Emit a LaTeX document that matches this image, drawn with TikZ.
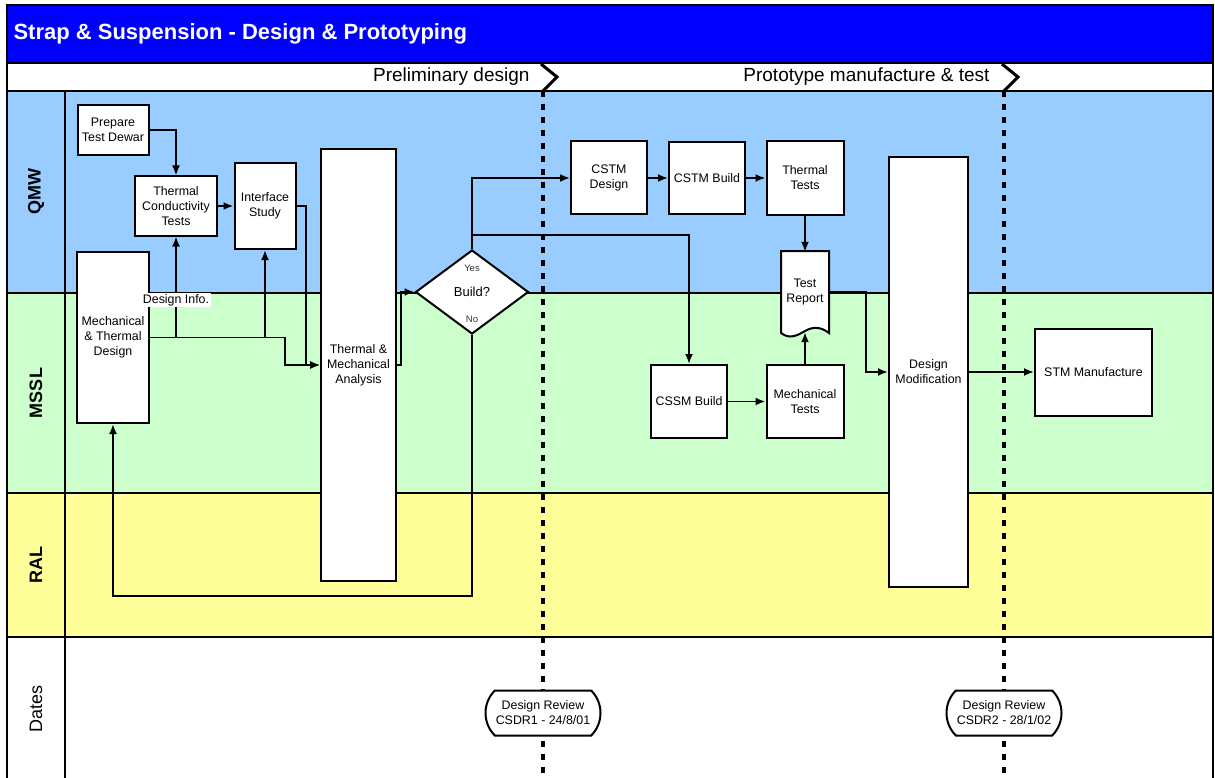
\documentclass[tikz,border=0pt]{standalone}
\usepackage{fontspec}
\setmainfont{Liberation Sans}
\usetikzlibrary{arrows.meta,calc,shapes.geometric,shapes.misc}
\definecolor{titleblue}{HTML}{0000FF}
\definecolor{qmwlane}{HTML}{99CCFF}
\definecolor{mssllane}{HTML}{CCFFCC}
\definecolor{rallane}{HTML}{FFFF99}

\begin{document}
\begin{tikzpicture}[x=1pt, y=-1pt, >={Latex[length=10pt,width=8pt]},
    proc/.style={draw, fill=white, line width=2pt, align=center, inner sep=1pt,
      font=\fontsize{12.4}{15}\selectfont},
    flow/.style={->, line width=1.9pt},
    laneline/.style={line width=2pt},
    milestone/.style={line width=4pt, dash pattern=on 6pt off 7pt},
    chevron/.style={line width=3pt},
    review/.style={proc, rounded rectangle, rounded rectangle arc length=90,
      minimum width=117pt, minimum height=45pt},
    lanename/.style={rotate=90, font=\bfseries\fontsize{18}{20}\selectfont},
    phase/.style={anchor=east, font=\fontsize{19}{21}\selectfont}]

  \fill[white] (0,0) rectangle (1215,778);
  \useasboundingbox (0,0) rectangle (1215,778);

  \fill[titleblue] (7,5) rectangle (1213,63);
  \fill[qmwlane] (7,91) rectangle (1213,293);
  \fill[mssllane] (7,293) rectangle (1213,493);
  \fill[rallane] (7,493) rectangle (1213,637);

  \draw[laneline] (7,63) -- (1213,63);
  \draw[laneline] (7,91) -- (1213,91);
  \draw[laneline] (7,293) -- (1213,293);
  \draw[laneline] (7,493) -- (1213,493);
  \draw[laneline] (7,637) -- (1213,637);
  \draw[laneline] (65,91) -- (65,778);
  \draw[laneline] (7,778) -- (7,5) -- (1213,5) -- (1213,778);

  \node[anchor=west, text=white, font=\bfseries\fontsize{22}{24}\selectfont] (title) at (10,34) {Strap \& Suspension - Design \& Prototyping};
  \node[phase] (prelim) at (533,77) {Preliminary design};
  \node[phase] (proto) at (993,77) {Prototype manufacture \& test};

  \node[lanename] (qmw) at (36,192) {QMW};
  \node[lanename] (mssl) at (36,393) {MSSL};
  \node[lanename] (ral) at (36,565) {RAL};
  \node[rotate=90, font=\fontsize{18}{20}\selectfont] (dates) at (36,709) {Dates};

  \coordinate (csdrtop) at (543,91);
  \coordinate (csdrend) at (543,778);
  \coordinate (stmtop) at (1004,91);
  \coordinate (stmend) at (1004,778);
  \draw[chevron] (541,64) -- (557,77) -- (csdrtop);
  \draw[chevron] (1002,64) -- (1018,77) -- (stmtop);
  \draw[milestone] (csdrtop) -- (csdrend);
  \draw[milestone] (stmtop) -- (stmend);

  \node[proc, minimum width=71pt, minimum height=50pt] (dewar) at (113,130) {Prepare\\Test Dewar};
  \node[proc, minimum width=82pt, minimum height=59pt] (tcond) at (176,206) {Thermal\\Conductivity\\Tests};
  \node[proc, minimum width=61pt, minimum height=86pt] (iface) at (265,206) {Interface\\Study};
  \node[proc, minimum width=72pt, minimum height=171pt] (mtd) at (113,337.5) {Mechanical\\\& Thermal\\Design};
  \node[proc, minimum width=75pt, minimum height=432pt] (tma) at (358.5,365) {Thermal \&\\Mechanical\\Analysis};
  \node[proc, diamond, inner sep=0pt, minimum width=113pt, minimum height=84pt,
    font=\fontsize{13}{15}\selectfont] (build) at (472,292) {Build?};
  \node[font=\fontsize{9.5}{11}\selectfont, text=black!80] (yes) at (472,268) {Yes};
  \node[font=\fontsize{9.5}{11}\selectfont, text=black!80] (no) at (472,319) {No};

  \node[proc, minimum width=76pt, minimum height=73pt] (cstmd) at (609,178) {CSTM\\Design};
  \node[proc, minimum width=76pt, minimum height=72pt] (cstmb) at (707,178) {CSTM Build};
  \node[proc, minimum width=77pt, minimum height=74pt] (ttests) at (805,178) {Thermal\\Tests};

  \coordinate (reportpos) at (805,292);
  \draw[line width=2pt, fill=white] ($(reportpos)+(-24,-41)$) -- ($(reportpos)+(24,-41)$)
    -- ($(reportpos)+(24,41)$) .. controls ($(reportpos)+(15,34)$) and ($(reportpos)+(7,35)$) .. ($(reportpos)+(0,39)$)
    .. controls ($(reportpos)+(-7,43)$) and ($(reportpos)+(-15,48)$) .. ($(reportpos)+(-24,41)$) -- cycle;
  \node[align=center, inner sep=0pt, minimum width=48pt, minimum height=80pt,
    font=\fontsize{12.4}{15}\selectfont] (report) at (reportpos) {Test\\Report};

  \node[proc, minimum width=76pt, minimum height=73pt] (cssm) at (689,401.5) {CSSM Build};
  \node[proc, minimum width=77pt, minimum height=73pt] (mtests) at (805,401.5) {Mechanical\\Tests};
  \node[proc, minimum width=79pt, minimum height=430pt] (dmod) at (928.5,372) {Design\\Modification};
  \node[proc, minimum width=117pt, minimum height=87pt] (stm) at (1093.5,372) {STM Manufacture};

  \node[review] (csdr1) at (543,713) {Design Review\\CSDR1 - 24/8/01};
  \node[review] (csdr2) at (1004,713) {Design Review\\CSDR2 - 28/1/02};

  \draw[flow] (dewar.east) -| (tcond.north);
  \draw[flow] (tcond) -- (iface);
  \draw[flow] (mtd.east) -| (tcond.south);
  \draw[flow] (mtd.east) -| (iface.south);
  \draw[flow] (mtd.east) -| ([xshift=-35pt]tma.west) -- (tma.west);
  \draw[flow] (iface.east) -| ([xshift=-14pt]tma.west) -- (tma.west);
  \draw[flow] (tma.east) -- ++(4,0) |- (build.west);
  \draw[flow] (build.north) |- (cstmd.west);
  \draw[flow] ([yshift=14pt]build.north) -| (cssm.north);
  \draw[flow] (build.south) |- ([yshift=-172pt]mtd.south) -- (mtd.south);
  \draw[flow] (cstmd) -- (cstmb);
  \draw[flow] (cstmb) -- (ttests);
  \draw[flow] (ttests) -- (report);
  \draw[flow] (cssm) -- (mtests);
  \draw[flow] (mtests) -- (report);
  \draw[flow] (report.east) -| ([xshift=-22pt]dmod.west) -- (dmod.west);
  \draw[flow] (dmod) -- (stm);

  \node[fill=white, inner sep=1.5pt, font=\fontsize{12.4}{15}\selectfont] (info) at (176,300) {Design Info.};
\end{tikzpicture}
\end{document}
